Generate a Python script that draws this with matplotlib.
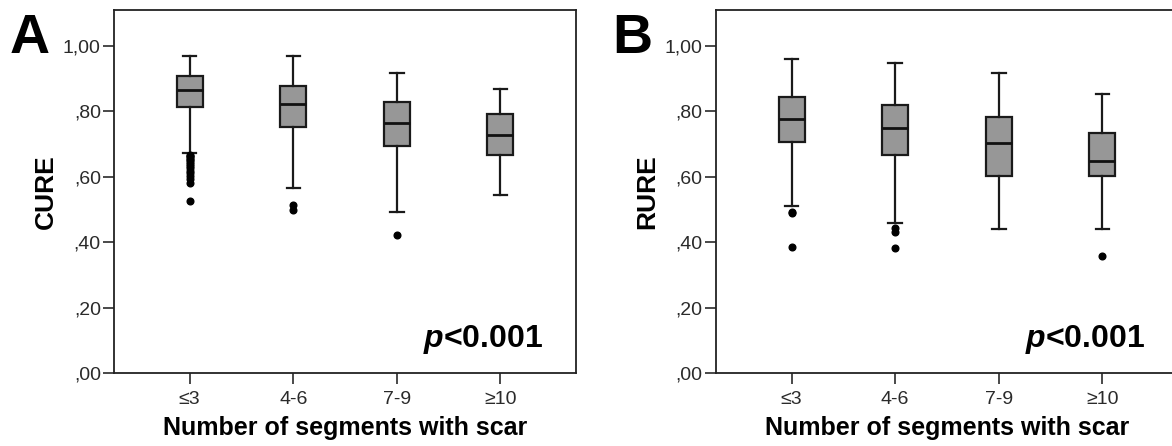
import matplotlib.pyplot as plt
import numpy as np

plt.rcParams['font.family'] = ['Liberation Sans', 'DejaVu Sans']
plt.rcParams['mathtext.fontset'] = 'custom'
plt.rcParams['mathtext.it'] = 'Liberation Sans:bold:italic'
plt.rcParams['mathtext.rm'] = 'Liberation Sans:bold'

groups = ['≤3', '4-6', '7-9', '≥10']
y_ticks = [0.0, 0.2, 0.4, 0.6, 0.8, 1.0]
y_tick_labels = [',00', ',20', ',40', ',60', ',80', '1,00']

# CURE: whislo, q1, median, q3, whishi per group
cure_whislo = [0.673, 0.566, 0.492, 0.544]
cure_q1 = [0.812, 0.751, 0.693, 0.666]
cure_med = [0.865, 0.822, 0.764, 0.727]
cure_q3 = [0.909, 0.879, 0.830, 0.791]
cure_whishi = [0.969, 0.970, 0.918, 0.868]
cure_fliers = [
    [0.668, 0.664, 0.659, 0.655, 0.650, 0.645, 0.640, 0.634, 0.627,
     0.619, 0.611, 0.602, 0.593, 0.582, 0.527],
    [0.515, 0.498],
    [0.423],
    [],
]

# RURE
rure_whislo = [0.511, 0.459, 0.441, 0.439]
rure_q1 = [0.705, 0.668, 0.602, 0.602]
rure_med = [0.777, 0.749, 0.702, 0.648]
rure_q3 = [0.843, 0.818, 0.784, 0.733]
rure_whishi = [0.960, 0.947, 0.916, 0.852]
rure_fliers = [
    [0.491, 0.488, 0.386],
    [0.444, 0.430, 0.382],
    [],
    [0.357],
]


def make_stats(lo, q1, med, q3, hi, fliers):
    stats = []
    for i in range(len(lo)):
        stats.append({'whislo': lo[i], 'q1': q1[i], 'med': med[i],
                      'q3': q3[i], 'whishi': hi[i], 'fliers': fliers[i]})
    return stats


def draw_panel(ax, stats, ylabel, letter):
    ax.bxp(stats, positions=range(1, len(groups) + 1), widths=0.25,
           patch_artist=True, showfliers=True,
           boxprops=dict(facecolor='#979797', edgecolor='#1a1a1a', linewidth=1.6),
           medianprops=dict(color='#111111', linewidth=2.0),
           whiskerprops=dict(color='#1a1a1a', linewidth=1.6),
           capprops=dict(color='#1a1a1a', linewidth=1.6),
           capwidths=0.13,
           flierprops=dict(marker='o', markerfacecolor='black',
                           markeredgecolor='black', markersize=4.8))
    ax.set_xlim(0.27, 4.73)
    ax.set_ylim(0, 1.11)
    ax.set_xticks(range(1, len(groups) + 1))
    ax.set_xticklabels(groups)
    ax.set_yticks(y_ticks)
    ax.set_yticklabels(y_tick_labels)
    ax.tick_params(axis='both', labelsize=14, colors='#2a2a2a',
                   length=8, width=1.2, direction='out')
    ax.tick_params(axis='y', pad=1.5)
    ax.tick_params(axis='x', pad=5)
    for s in ax.spines.values():
        s.set_linewidth(1.3)
        s.set_color('#222222')
    ax.set_xlabel('Number of segments with scar', fontsize=18,
                  fontweight='bold', labelpad=6)
    ax.set_ylabel(ylabel, fontsize=19, fontweight='bold', labelpad=4)
    ax.text(0.929, 0.072, r'$p$<0.001', transform=ax.transAxes,
            ha='right', va='baseline', fontsize=23, fontweight='bold')
    ax.text(-0.182, 0.8815, letter, transform=ax.transAxes, ha='center',
            va='baseline', fontsize=40, fontweight='bold')


fig = plt.figure(figsize=(11.72, 4.46), dpi=100)
ax1 = fig.add_axes([0.0973, 0.1637, 0.3942, 0.8139])
ax2 = fig.add_axes([0.6109, 0.1637, 0.3942, 0.8139])

draw_panel(ax1, make_stats(cure_whislo, cure_q1, cure_med, cure_q3,
                           cure_whishi, cure_fliers), 'CURE', 'A')
draw_panel(ax2, make_stats(rure_whislo, rure_q1, rure_med, rure_q3,
                           rure_whishi, rure_fliers), 'RURE', 'B')

fig.savefig('out.png', dpi=100)
